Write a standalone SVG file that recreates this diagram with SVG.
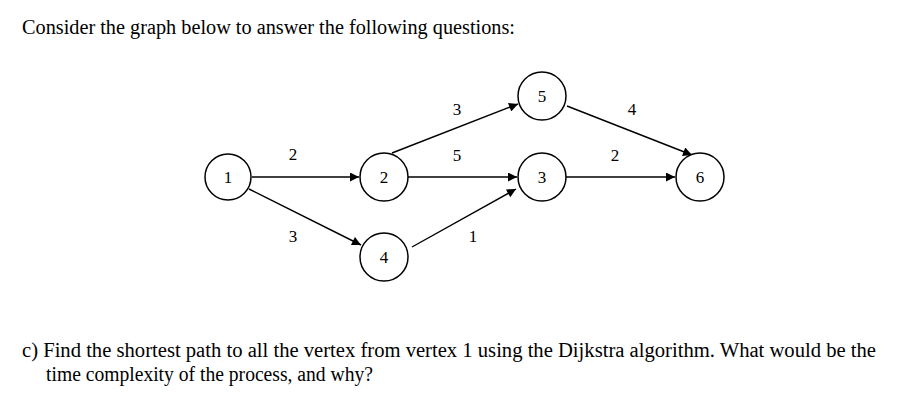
<svg xmlns="http://www.w3.org/2000/svg" width="900" height="402" viewBox="0 0 900 402">
<style>
.t{font-family:"Liberation Serif",serif;font-size:20px;fill:#000}
.n{fill:#fff;stroke:#000;stroke-width:1.5}
.l{font-family:"Liberation Serif",serif;font-size:17px;fill:#000;text-anchor:middle}
.e{stroke:#000;stroke-width:1.4;fill:none;marker-end:url(#a)}
</style>
<defs><marker id="a" viewBox="0 0 10 10" refX="10" refY="5" markerWidth="11" markerHeight="9" markerUnits="userSpaceOnUse" orient="auto"><path d="M0,0L10,5L0,10z" fill="#000"/></marker></defs>
<rect width="900" height="402" fill="#fff"/>
<text class="t" x="22" y="34" textLength="493" lengthAdjust="spacingAndGlyphs">Consider the graph below to answer the following questions:</text>
<g id="edges">
<line class="e" x1="252" y1="177" x2="359" y2="177"/>
<line class="e" x1="249" y1="189" x2="361" y2="245"/>
<line class="e" x1="392" y1="153" x2="518" y2="104"/>
<line class="e" x1="408" y1="177" x2="517" y2="177"/>
<line class="e" x1="412" y1="247" x2="516" y2="189"/>
<line class="e" x1="567" y1="106" x2="692" y2="155"/>
<line class="e" x1="566" y1="177" x2="675" y2="177"/>
<text class="l" x="293" y="160">2</text>
<text class="l" x="293" y="242">3</text>
<text class="l" x="457" y="115">3</text>
<text class="l" x="457" y="161">5</text>
<text class="l" x="473" y="242">1</text>
<text class="l" x="632" y="115">4</text>
<text class="l" x="615" y="161">2</text>
</g>
<g id="n1"><circle class="n" cx="228" cy="177" r="23"/><text class="l" x="228" y="183">1</text></g>
<g id="n2"><circle class="n" cx="384" cy="177" r="24"/><text class="l" x="384" y="183">2</text></g>
<g id="n4"><circle class="n" cx="384" cy="257" r="24"/><text class="l" x="384" y="263">4</text></g>
<g id="n5"><circle class="n" cx="542" cy="96" r="24"/><text class="l" x="542" y="102">5</text></g>
<g id="n3"><circle class="n" cx="542" cy="177" r="24"/><text class="l" x="542" y="183">3</text></g>
<g id="n6"><circle class="n" cx="700" cy="177" r="24"/><text class="l" x="700" y="183">6</text></g>
<text class="t" x="22" y="357" textLength="854" lengthAdjust="spacingAndGlyphs">c)  Find the shortest path to all the vertex from vertex 1 using the Dijkstra algorithm. What would be the</text>
<text class="t" x="46" y="381" textLength="327" lengthAdjust="spacingAndGlyphs">time complexity of the process, and why?</text>
</svg>
